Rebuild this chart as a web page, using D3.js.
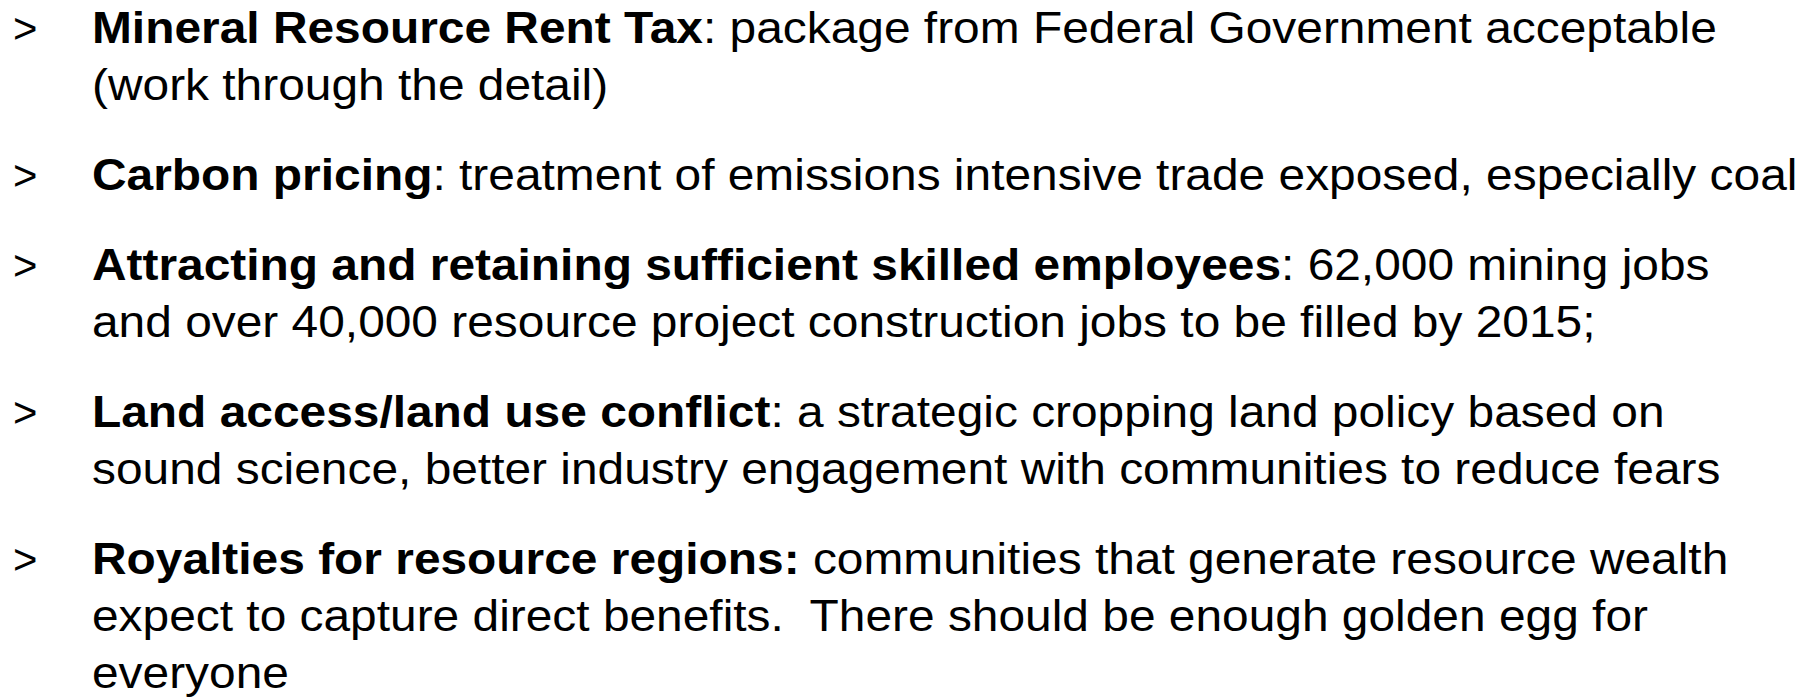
<!DOCTYPE html>
<html><head><meta charset="utf-8">
<script src="https://cdn.jsdelivr.net/npm/d3@7"></script>
<style>html,body{margin:0;padding:0;background:#fff;overflow:hidden}</style>
</head><body>
<script>
// Slide content
const headings = [
  "Mineral Resource Rent Tax",
  "Carbon pricing",
  "Attracting and retaining sufficient skilled employees",
  "Land access/land use conflict",
  "Royalties for resource regions:"
];
const firstLines = [
  ": package from Federal Government acceptable",
  ": treatment of emissions intensive trade exposed, especially coal",
  ": 62,000 mining jobs",
  ": a strategic cropping land policy based on",
  " communities that generate resource wealth"
];
const continuations = [
  ["(work through the detail)"],
  [],
  ["and over 40,000 resource project construction jobs to be filled by 2015;"],
  ["sound science, better industry engagement with communities to reduce fears"],
  ["expect to capture direct benefits.  There should be enough golden egg for", "everyone"]
];
const bulletSymbol = ">";

const W = 1816, H = 699;
const fontSize = 44, lineH = 57, paraGap = 33, firstBaseline = 43;
const textX = 92, bulletX = 13;
const targetWidth = 1706; // width of the "Carbon pricing" line

const svg = d3.select("body").append("svg").attr("width", W).attr("height", H)
  .style("font-family", "'Liberation Sans', Arial, Helvetica, sans-serif");

// build line list
const lines = [];
let li = 0;
headings.forEach((h, pi) => {
  lines.push({pi, li: li++, bold: h, reg: firstLines[pi], bullet: true});
  continuations[pi].forEach(c => lines.push({pi, li: li++, bold: "", reg: c, bullet: false}));
});
const yPos = d => firstBaseline + d.li * lineH + d.pi * paraGap;

const g = svg.append("g");
const rows = g.selectAll("g.row").data(lines).join("g").attr("class", "row");
const texts = rows.append("text")
  .attr("x", textX).attr("y", yPos)
  .attr("font-size", fontSize).attr("fill", "#000")
  .style("white-space", "pre").attr("xml:space", "preserve");
texts.append("tspan").attr("font-weight", "bold").text(d => d.bold);
texts.append("tspan").text(d => d.reg);

// horizontal fit based on the "Carbon pricing" line
const refNode = texts.filter(d => d.pi === 1).node();
const sx = targetWidth / refNode.getComputedTextLength();
texts.attr("transform", `translate(${textX},0) scale(${sx},1) translate(${-textX},0)`);

rows.filter(d => d.bullet).append("text")
  .attr("x", bulletX).attr("y", yPos)
  .attr("font-size", fontSize * 0.95).attr("fill", "#000")
  .text(bulletSymbol);
</script>
</body></html>
